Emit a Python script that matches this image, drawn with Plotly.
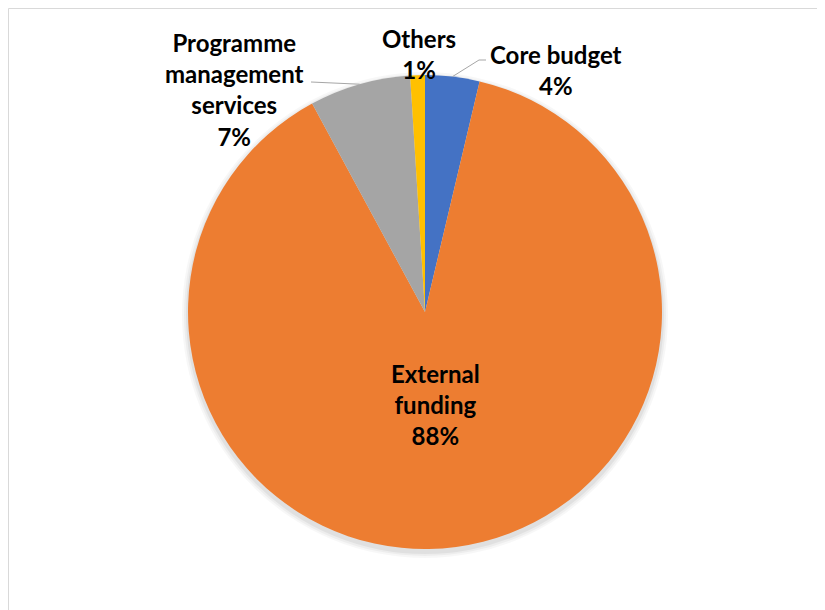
import math
import plotly.graph_objects as go

# ---- data ----
categories = ["Core budget", "External funding", "Programme management services", "Others"]
values = [3.7, 88.4, 6.9, 1.0]
colors = ["#4472C4", "#ED7D31", "#A5A5A5", "#FFC000"]
label_lines = [["Core budget"], ["External", "funding"], ["Programme", "management", "services"], ["Others"]]

W, H = 825, 610
OFF = 8                             # page body margin
L, T, SIDE = 188 - OFF, 75 - OFF, 474   # pie plot-area (square) in figure pixels
R = SIDE / 2
CX, CY = L + R, T + R

def to_paper(x, y):
    # x, y given in page pixels
    x -= OFF; y -= OFF
    return (x - L) / SIDE, (T + SIDE - y) / SIDE

def edge_point(i, frac=1.0):
    tot = sum(values)
    start = sum(values[:i]) / tot * 360
    mid = start + values[i] / tot * 180
    a = math.radians(mid)
    return CX + OFF + frac * R * math.sin(a), CY + OFF - frac * R * math.cos(a)

fig = go.Figure(go.Pie(
    labels=categories, values=values, sort=False, direction="clockwise", rotation=0,
    marker=dict(colors=colors, line=dict(width=0)),
    textinfo="none", hoverinfo="label+percent", showlegend=False,
))

FONT = dict(family="Lato", size=24, color="#000000", weight=700)
tot = sum(values)
pct = [f"{round(v / tot * 100)}%" for v in values]

# label centres (page pixels)
label_pos = {0: (556, 70), 1: (435, 405), 2: (234, 90), 3: (419, 54)}
for i, (x, y) in label_pos.items():
    px, py = to_paper(x, y)
    fig.add_annotation(x=px, y=py, xref="paper", yref="paper", showarrow=False,
                       text="<br>".join(label_lines[i] + [pct[i]]), font=FONT,
                       align="center", xanchor="center", yanchor="middle")

shapes = []
# soft shadow under the pie
pcx, pcy = CX + OFF, CY + OFF
for dr, op in [(6, 0.03), (4, 0.04), (2, 0.05)]:
    x0, y0 = to_paper(pcx - R - dr, pcy + 3 - R - dr)
    x1, y1 = to_paper(pcx + R + dr, pcy + 3 + R + dr)
    shapes.append(dict(type="circle", xref="paper", yref="paper", x0=x0, y0=y1, x1=x1, y1=y0,
                       fillcolor=f"rgba(0,0,0,{op})", line=dict(width=0), layer="below"))

# leader lines
lc = "#A6A6A6"
ex, ey = edge_point(2)
a = to_paper(311, 82); b = to_paper(ex, ey)
shapes.append(dict(type="path", xref="paper", yref="paper",
                   path=f"M {a[0]},{a[1]} L {b[0]},{b[1]}", line=dict(color=lc, width=1)))
ex, ey = edge_point(0)
a = to_paper(ex, ey); b = to_paper(479, 60); c = to_paper(486, 60)
shapes.append(dict(type="path", xref="paper", yref="paper",
                   path=f"M {a[0]},{a[1]} L {b[0]},{b[1]} L {c[0]},{c[1]}", line=dict(color=lc, width=1)))

# chart frame (top and left edges)
fx0, fy0 = to_paper(8.5, 8.5)
fx1, _ = to_paper(W + 20, 8.5)
_, fy1 = to_paper(8.5, H + 20)
shapes.append(dict(type="line", xref="paper", yref="paper", x0=fx0, y0=fy0, x1=fx1, y1=fy0,
                   line=dict(color="#D9D9D9", width=1)))
shapes.append(dict(type="line", xref="paper", yref="paper", x0=fx0, y0=fy0, x1=fx0, y1=fy1,
                   line=dict(color="#D9D9D9", width=1)))

fig.update_layout(
    width=W, height=H,
    margin=dict(l=L, r=W - L - SIDE, t=T, b=H - T - SIDE, pad=0),
    paper_bgcolor="white", plot_bgcolor="white",
    shapes=shapes,
)
fig.write_html("out.html")
